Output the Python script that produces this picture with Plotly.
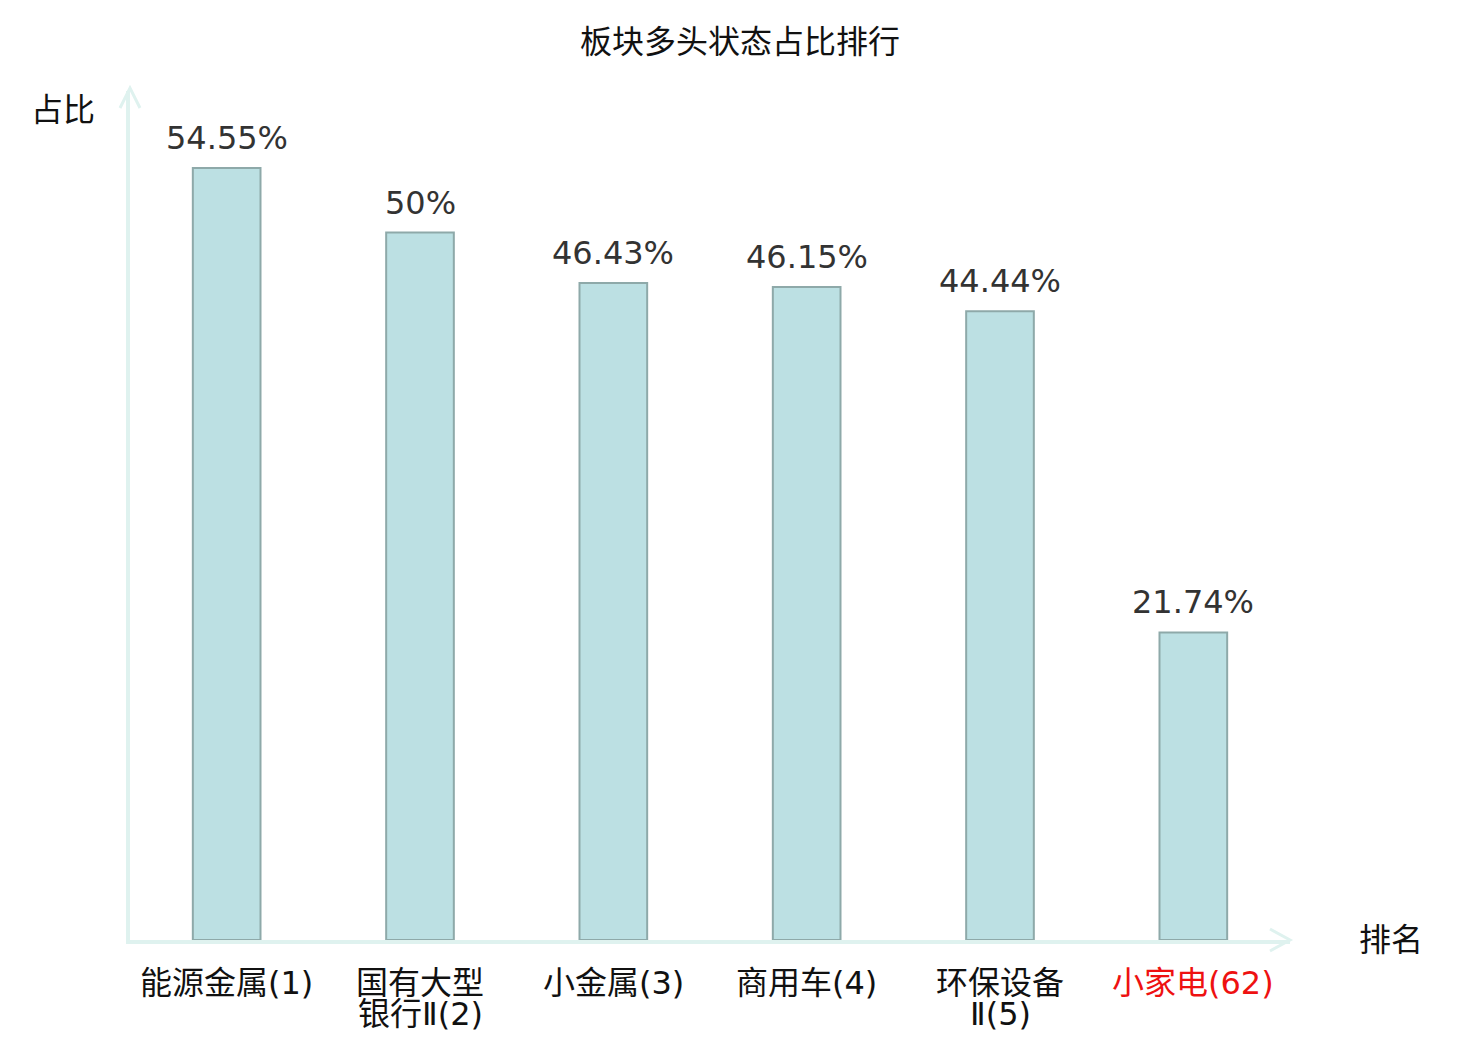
import plotly.graph_objects as go

# 数据
categories = ["能源金属(1)", "国有大型银行Ⅱ(2)", "小金属(3)", "商用车(4)", "环保设备Ⅱ(5)", "小家电(62)"]
label_line1 = ["能源金属(1)", "国有大型", "小金属(3)", "商用车(4)", "环保设备", "小家电(62)"]
label_line2 = ["", "银行Ⅱ(2)", "", "", "Ⅱ(5)", ""]
label_colors = ["#111111", "#111111", "#111111", "#111111", "#111111", "#ee1111"]
values = [54.55, 50, 46.43, 46.15, 44.44, 21.74]
value_text = ["54.55%", "50%", "46.43%", "46.15%", "44.44%", "21.74%"]

W, H = 1480, 1040
L, R, T, B = 130, 190, 91, 100
PW, PH = W - L - R, H - T - B

FONT = "DejaVu Sans, Noto Sans CJK SC, sans-serif"
AXIS_COLOR = "#dff2ef"


def px(x, y):
    # pixel -> paper
    return (x - L) / PW, (H - B - y) / PH


fig = go.Figure()

fig.add_trace(go.Bar(
    x=categories,
    y=values,
    width=0.35,
    marker=dict(color="#bce0e3", line=dict(color="#8ea9a9", width=2)),
    hoverinfo="skip",
))

annotations = []
# 柱顶数值
for c, v, t in zip(categories, values, value_text):
    annotations.append(dict(
        x=c, y=v, xref="x", yref="y", text=t, showarrow=False,
        yanchor="middle", yshift=30,
        font=dict(family=FONT, size=32, color="#333333"),
    ))
# 类目标签（两行）
for c, l1, l2, col in zip(categories, label_line1, label_line2, label_colors):
    annotations.append(dict(
        x=c, y=0, xref="x", yref="paper", text=l1, showarrow=False,
        yanchor="middle", yshift=-43,
        font=dict(family=FONT, size=32, color=col),
    ))
    if l2:
        annotations.append(dict(
            x=c, y=0, xref="x", yref="paper", text=l2, showarrow=False,
            yanchor="middle", yshift=-74,
            font=dict(family=FONT, size=32, color=col),
        ))

# 轴名
ax, ay = px(63, 110)
annotations.append(dict(x=ax, y=ay, xref="paper", yref="paper", text="占比",
                        showarrow=False, xanchor="center", yanchor="middle",
                        font=dict(family=FONT, size=32, color="#111111")))
ax, ay = px(1391, 940)
annotations.append(dict(x=ax, y=ay, xref="paper", yref="paper", text="排名",
                        showarrow=False, xanchor="center", yanchor="middle",
                        font=dict(family=FONT, size=32, color="#111111")))

# 箭头
def chevron(points):
    pts = [px(x, y) for x, y in points]
    path = "M {} {} L {} {} L {} {}".format(*[v for p in pts for v in p])
    return dict(type="path", xref="paper", yref="paper", path=path,
                line=dict(color=AXIS_COLOR, width=3))

shapes = [
    chevron([(1270, 929), (1290, 940), (1270, 951)]),
    chevron([(120, 108), (130, 88), (140, 108)]),
]

fig.update_layout(
    width=W, height=H,
    margin=dict(l=L, r=R, t=T, b=B),
    plot_bgcolor="white", paper_bgcolor="white",
    showlegend=False,
    title=dict(text="板块多头状态占比排行", x=0.5, xanchor="center",
               y=1 - 42 / H, yanchor="middle",
               font=dict(family=FONT, size=32, color="#111111")),
    xaxis=dict(range=[-0.5, 5.5], showticklabels=False, ticks="",
               showgrid=False, zeroline=False,
               showline=True, linecolor=AXIS_COLOR, linewidth=4),
    yaxis=dict(range=[0, 60], showticklabels=False, ticks="",
               showgrid=False, zeroline=False,
               showline=True, linecolor=AXIS_COLOR, linewidth=4),
    annotations=annotations,
    shapes=shapes,
)

# 去掉页面默认的 body 边距，隐藏工具栏
fig.write_html("out.html", config={"displayModeBar": False},
               post_script="document.body.style.margin='0';")
